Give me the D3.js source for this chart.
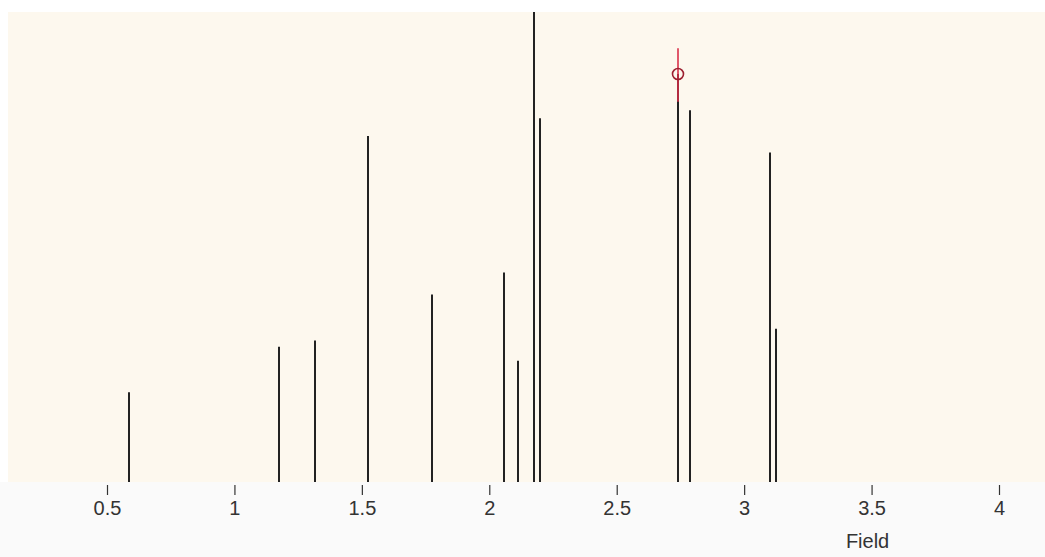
<!DOCTYPE html>
<html>
<head>
<meta charset="utf-8">
<script src="https://cdn.jsdelivr.net/npm/d3@7"></script>
<style>
  html, body { margin: 0; padding: 0; background: #ffffff; }
  svg { display: block; }
</style>
</head>
<body>
<script>
// ---- data ----
const fields = [0.586, 1.176, 1.317, 1.523, 1.774, 2.058, 2.111, 2.175, 2.199, 2.742, 2.789, 3.103, 3.126];
const intensities = [19.1, 28.8, 30.1, 73.6, 39.9, 44.6, 25.8, 100, 77.4, 86.8, 79.1, 70.1, 32.6];
const tickValues = [0.5, 1, 1.5, 2, 2.5, 3, 3.5, 4];
const tickLabels = ["0.5", "1", "1.5", "2", "2.5", "3", "3.5", "4"];
const axisTitle = "Field";
const markerField = [2.742];
const markerValue = [86.8];
const markerLow = [80.9];
const markerHigh = [92.3];

const W = 1045, H = 557;
const plot = { left: 8, right: 1045, top: 12, bottom: 482 };

const svg = d3.select("body").append("svg").attr("width", W).attr("height", H);

// backgrounds
svg.append("rect").attr("x", 0).attr("y", 0).attr("width", W).attr("height", H).attr("fill", "#ffffff");
svg.append("rect").attr("x", 0).attr("y", plot.bottom).attr("width", W).attr("height", H - plot.bottom).attr("fill", "#fafafa");
svg.append("rect").attr("x", plot.left).attr("y", plot.top)
  .attr("width", plot.right - plot.left).attr("height", plot.bottom - plot.top).attr("fill", "#fdf8ee");

const x = d3.scaleLinear().domain([0.5, 4]).range([107, 999]);
const y = d3.scaleLinear().domain([0, 100]).range([plot.bottom, plot.top]);

// sticks
const data = fields.map((f, i) => ({ f, v: intensities[i] }));
svg.append("g").selectAll("line").data(data).join("line")
  .attr("x1", d => Math.round(x(d.f)))
  .attr("x2", d => Math.round(x(d.f)))
  .attr("y1", y(0))
  .attr("y2", d => y(d.v))
  .attr("stroke", "#222222")
  .attr("stroke-width", 2);

// marker
const mk = markerField.map((f, i) => ({ f, v: markerValue[i], lo: markerLow[i], hi: markerHigh[i] }));
const mg = svg.append("g");
mg.selectAll("line").data(mk).join("line")
  .attr("x1", d => Math.round(x(d.f)))
  .attr("x2", d => Math.round(x(d.f)))
  .attr("y1", d => y(d.lo))
  .attr("y2", d => y(d.hi))
  .attr("stroke", "#d83048")
  .attr("stroke-opacity", 0.8)
  .attr("stroke-width", 2);
mg.selectAll("circle").data(mk).join("circle")
  .attr("cx", d => Math.round(x(d.f)))
  .attr("cy", d => y(d.v))
  .attr("r", 5.5)
  .attr("fill", "none")
  .attr("stroke", "#9c2030")
  .attr("stroke-width", 1.6);

// axis
const axis = d3.axisBottom(x)
  .tickValues(tickValues)
  .tickFormat((d, i) => tickLabels[i])
  .tickSize(10)
  .tickPadding(6);
const ag = svg.append("g").attr("transform", `translate(0,${plot.bottom + 3})`).call(axis);
ag.select(".domain").remove();
ag.selectAll(".tick line").attr("stroke", "#333").attr("stroke-width", 1.2);
ag.selectAll(".tick text")
  .attr("fill", "#333333")
  .style("font-family", "'Liberation Sans', Arial, sans-serif")
  .style("font-size", "20px");

svg.append("text")
  .attr("x", x(3.5) - 4)
  .attr("y", 548)
  .attr("text-anchor", "middle")
  .attr("fill", "#333333")
  .style("font-family", "'Liberation Sans', Arial, sans-serif")
  .style("font-size", "20px")
  .text(axisTitle);
</script>
</body>
</html>
